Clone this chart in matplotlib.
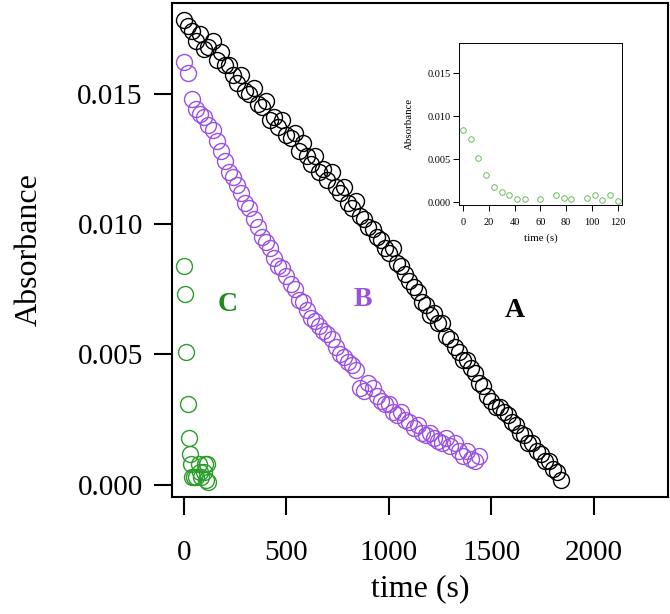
# absorbance decay traces A, B, C with inset of C
import numpy as np
import matplotlib
matplotlib.use("Agg")
import matplotlib.pyplot as plt

plt.rcParams['font.family'] = ['Liberation Serif', 'DejaVu Serif']

# -------------------- DATA --------------------
t_a = np.arange(0, 1841, 20)
abs_a = [0.0178, 0.0176, 0.0174, 0.0170, 0.0173, 0.0167, 0.0168, 0.0170, 0.0163, 0.0166,
         0.0161, 0.0161, 0.0157, 0.0154, 0.0157, 0.0151, 0.0150, 0.0152, 0.0146, 0.0145,
         0.0147, 0.0140, 0.0141, 0.0137, 0.0140, 0.0134, 0.0133, 0.0135, 0.0128, 0.0131,
         0.0126, 0.0123, 0.0126, 0.0120, 0.0121, 0.0117, 0.0120, 0.0114, 0.0112, 0.0114,
         0.0108, 0.0106, 0.0109, 0.0103, 0.0102, 0.0099, 0.0098, 0.0095, 0.0094, 0.0091,
         0.0089, 0.0091, 0.0085, 0.0084, 0.0081, 0.0078, 0.0076, 0.0074, 0.0070, 0.0069,
         0.0065, 0.0066, 0.0062, 0.0062, 0.0057, 0.0056, 0.0053, 0.0051, 0.0048, 0.0048,
         0.0045, 0.0043, 0.0039, 0.0038, 0.0034, 0.0032, 0.0030, 0.0030, 0.0028, 0.0027,
         0.0024, 0.0023, 0.0020, 0.0019, 0.0016, 0.0016, 0.0013, 0.0012, 0.0009, 0.0009,
         0.0006, 0.0005, 0.0002]

t_b = np.arange(0, 1441, 20)
abs_b = [0.0162, 0.0158, 0.0148, 0.0144, 0.0142, 0.0141, 0.0138, 0.0136, 0.0132, 0.0128,
         0.0124, 0.0120, 0.0118, 0.0115, 0.0112, 0.0108, 0.0106, 0.0102, 0.0099, 0.0095,
         0.0093, 0.0091, 0.0087, 0.0084, 0.0083, 0.0080, 0.0077, 0.0075, 0.0071, 0.0070,
         0.0067, 0.0064, 0.0063, 0.0061, 0.0059, 0.0058, 0.0056, 0.0053, 0.0050, 0.0049,
         0.0047, 0.0046, 0.0044, 0.0037, 0.0036, 0.0039, 0.0037, 0.0034, 0.0032, 0.0031,
         0.0031, 0.0028, 0.0027, 0.0028, 0.0025, 0.0024, 0.0022, 0.0023, 0.0020, 0.0019,
         0.0020, 0.0018, 0.0017, 0.0016, 0.0018, 0.0015, 0.0016, 0.0013, 0.0011, 0.0013,
         0.0010, 0.0009, 0.0011]

t_c = [0, 6, 12, 18, 24, 30, 36, 42, 48, 60, 72, 78, 84, 96, 102, 108, 114, 120]
abs_c = [0.0084, 0.0073, 0.0051, 0.0031, 0.0018, 0.0012, 0.0008, 0.0003, 0.0003, 0.0003,
         0.0008, 0.0005, 0.0003, 0.0005, 0.0008, 0.0002, 0.0008, 0.0001]

col_a = 'black'
col_b = '#9b51e0'
col_c = '#2a9d2a'

# -------------------- MAIN PLOT --------------------
fig = plt.figure(figsize=(6.70, 6.14), dpi=100)
ax = fig.add_axes([0.2567, 0.1906, 0.7403, 0.8045])

ax.plot(t_a, abs_a, 'o', mfc='none', mec=col_a, ms=11.5, mew=1.0)
ax.plot(t_b, abs_b, 'o', mfc='none', mec=col_b, ms=11.5, mew=1.0)
ax.plot(t_c, abs_c, 'o', mfc='none', mec=col_c, ms=11.5, mew=1.0)

ax.set_xlim(-58, 2361)
ax.set_ylim(-0.00046, 0.01847)
ax.set_xticks([0, 500, 1000, 1500, 2000])
ax.set_yticks([0.000, 0.005, 0.010, 0.015])
ax.set_yticklabels(['0.000', '0.005', '0.010', '0.015'])

for s in ax.spines.values():
    s.set_linewidth(1.5)
ax.tick_params(direction='out', length=13, width=1.5, labelsize=21)
ax.tick_params(axis='x', pad=18)
ax.tick_params(axis='y', pad=8)

ax.set_xlabel('time (s)', fontsize=23, labelpad=6)
ax.set_ylabel('Absorbance', fontsize=23, labelpad=24)

ax.text(215, 0.0069, 'C', color='#1e8c1e', fontsize=20, fontweight='bold', ha='center', va='center')
ax.text(873, 0.0071, 'B', color=col_b, fontsize=20, fontweight='bold', ha='center', va='center')
ax.text(1615, 0.0067, 'A', color=col_a, fontsize=20, fontweight='bold', ha='center', va='center')

# -------------------- INSET --------------------
axi = fig.add_axes([0.685, 0.666, 0.243, 0.264])
axi.plot(t_c, abs_c, 'o', mfc='none', mec='#6cbb5c', ms=4, mew=0.7)
axi.set_xlim(-3.1, 123)
axi.set_ylim(-0.00035, 0.01849)
axi.set_xticks([0, 20, 40, 60, 80, 100, 120])
axi.set_yticks([0.000, 0.005, 0.010, 0.015])
axi.set_yticklabels(['0.000', '0.005', '0.010', '0.015'])
for s in axi.spines.values():
    s.set_linewidth(0.7)
axi.tick_params(direction='out', length=4, width=0.7, labelsize=7.5, pad=2)
axi.tick_params(axis='x', pad=5)
axi.set_xlabel('time (s)', fontsize=7.8, labelpad=5)
axi.set_ylabel('Absorbance', fontsize=7.8, labelpad=10)

fig.savefig('out.png', dpi=100)
